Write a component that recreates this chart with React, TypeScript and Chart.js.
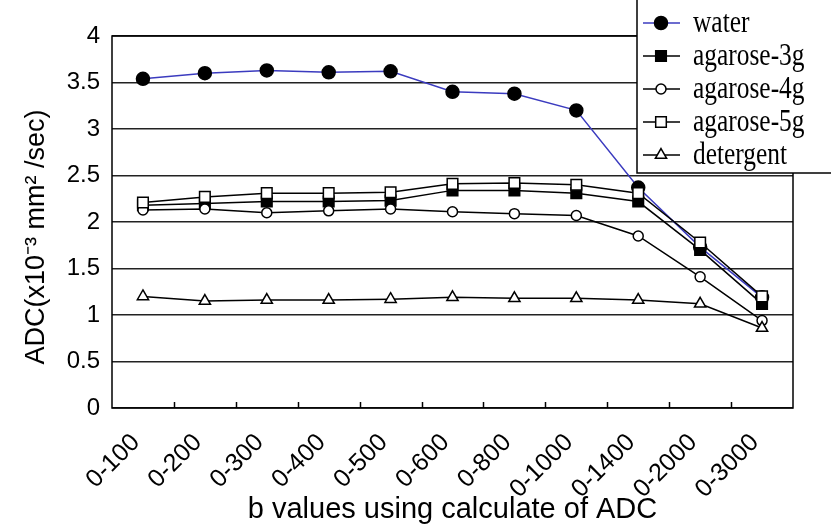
import React, { useEffect, useRef } from 'react';
import { Chart, registerables } from 'chart.js';
import { drawPoint } from 'chart.js/helpers';

Chart.register(...registerables);

const categories = ['0-100', '0-200', '0-300', '0-400', '0-500', '0-600', '0-800', '0-1000', '0-1400', '0-2000', '0-3000'];
const water = [3.54, 3.6, 3.63, 3.61, 3.62, 3.4, 3.38, 3.2, 2.37, 1.73, 1.19];
const agarose3g = [2.18, 2.2, 2.22, 2.22, 2.23, 2.34, 2.34, 2.31, 2.22, 1.7, 1.12];
const agarose4g = [2.13, 2.14, 2.1, 2.12, 2.14, 2.11, 2.09, 2.07, 1.85, 1.41, 0.94];
const agarose5g = [2.21, 2.27, 2.31, 2.31, 2.32, 2.41, 2.42, 2.4, 2.31, 1.78, 1.2];
const detergent = [1.2, 1.15, 1.16, 1.16, 1.17, 1.19, 1.18, 1.18, 1.16, 1.12, 0.86];
const seriesLabels = ['water', 'agarose-3g', 'agarose-4g', 'agarose-5g', 'detergent'];
const yTickLabels = ['0', '0.5', '1', '1.5', '2', '2.5', '3', '3.5', '4'];
const xTitle = 'b values using calculate of ADC';
const yTitle = 'ADC(x10\u207B\u00B3 mm\u00B2 /sec)\u00A0\u00A0\u00A0\u00A0';

const SANS = "'Liberation Sans', Arial, sans-serif";
const SERIF = "'Liberation Serif', 'Times New Roman', serif";

export default function App() {
  const ref = useRef<HTMLCanvasElement>(null);
  useEffect(() => {
    document.body.style.margin = '0';
    const canvas = ref.current!;

    const styles = [
      { color: '#3b3bbf', pointStyle: 'circle', radius: 6.5, bg: '#000', border: '#000' },
      { color: '#000', pointStyle: 'rect', radius: 7.5, bg: '#000', border: '#000' },
      { color: '#000', pointStyle: 'circle', radius: 5, bg: '#fff', border: '#000' },
      { color: '#000', pointStyle: 'rect', radius: 7.5, bg: '#fff', border: '#000' },
      { color: '#000', pointStyle: 'triangle', radius: 6.5, bg: '#fff', border: '#000' },
    ];
    const values = [water, agarose3g, agarose4g, agarose5g, detergent];

    const framePlugin = {
      id: 'frame',
      beforeDatasetsDraw(chart: any) {
        const { ctx, chartArea, scales } = chart;
        const { left, top, right, bottom } = chartArea;
        ctx.save();
        ctx.strokeStyle = '#000';
        ctx.lineWidth = 1.5;
        ctx.strokeRect(left, top, right - left, bottom - top);
        const x = scales.x;
        for (let i = 1; i < categories.length; i++) {
          const px = Math.round((x.getPixelForValue(i - 1) + x.getPixelForValue(i)) / 2) + 0.5;
          ctx.beginPath();
          ctx.moveTo(px, bottom);
          ctx.lineTo(px, bottom - 6);
          ctx.stroke();
        }
        ctx.restore();
      },
    };

    const legendPlugin = {
      id: 'customLegend',
      afterDraw(chart: any) {
        const { ctx } = chart;
        ctx.save();
        const bx = 637, by = -2, bw = 210, bh = 175;
        ctx.fillStyle = '#fff';
        ctx.fillRect(bx, by, bw, bh);
        ctx.strokeStyle = '#000';
        ctx.lineWidth = 1.5;
        ctx.strokeRect(bx, by, bw, bh);
        chart.data.datasets.forEach((ds: any, i: number) => {
          const y = 23 + i * 33;
          ctx.save();
          ctx.strokeStyle = ds.borderColor;
          ctx.lineWidth = 1.5;
          ctx.beginPath();
          ctx.moveTo(643, y);
          ctx.lineTo(680, y);
          ctx.stroke();
          ctx.fillStyle = ds.pointBackgroundColor;
          ctx.strokeStyle = ds.pointBorderColor;
          ctx.lineWidth = 1.5;
          drawPoint(ctx, { pointStyle: ds.pointStyle, radius: ds.pointRadius, borderWidth: 1.5, rotation: 0 } as any, 661, y);
          ctx.fillStyle = '#000';
          ctx.font = `31px ${SERIF}`;
          ctx.textAlign = 'left';
          ctx.textBaseline = 'middle';
          ctx.translate(693, y + 1);
          ctx.scale(0.82, 1);
          ctx.fillText(ds.label, 0, 0);
          ctx.restore();
        });
        ctx.restore();
      },
    };

    const chart = new Chart(canvas, {
      type: 'line',
      data: {
        labels: categories,
        datasets: values.map((v, i) => ({
          label: seriesLabels[i],
          data: v,
          borderColor: styles[i].color,
          borderWidth: 1.5,
          pointStyle: styles[i].pointStyle as any,
          pointRadius: styles[i].radius,
          pointBackgroundColor: styles[i].bg,
          pointBorderColor: styles[i].border,
          pointBorderWidth: 1.5,
          tension: 0,
          fill: false,
          order: 5 - i,
        })),
      },
      options: {
        responsive: false,
        animation: false,
        layout: { padding: { top: 36, right: 38, left: 0, bottom: 0 } },
        plugins: { legend: { display: false }, tooltip: { enabled: false } },
        scales: {
          x: {
            type: 'category',
            offset: true,
            grid: { display: false, drawTicks: false },
            border: { display: false },
            ticks: {
              color: '#000',
              font: { family: SANS, size: 25 },
              maxRotation: 45,
              minRotation: 45,
              padding: 20,
              labelOffset: -7,
              autoSkip: false,
            },
            title: {
              display: true,
              text: xTitle,
              color: '#000',
              font: { family: SANS, size: 29 },
              padding: { top: 0, bottom: 0 },
            },
            afterFit: (s: any) => {
              s.height = 119;
            },
          },
          y: {
            min: 0,
            max: 4,
            ticks: {
              stepSize: 0.5,
              color: '#000',
              font: { family: SANS, size: 24 },
              padding: 12,
              callback: (_v: any, i: number) => yTickLabels[i],
            },
            grid: { color: '#222', lineWidth: 1.5, drawTicks: false },
            border: { display: false },
            title: {
              display: true,
              text: yTitle,
              color: '#000',
              font: { family: SANS, size: 27 },
              padding: { top: 20, bottom: 0 },
            },
            afterFit: (s: any) => {
              s.width = 112;
            },
          },
        },
      },
      plugins: [framePlugin, legendPlugin],
    });
    return () => chart.destroy();
  }, []);
  return (
    <div style={{ width: 831, height: 527 }}>
      <canvas ref={ref} width={831} height={527} />
    </div>
  );
}
